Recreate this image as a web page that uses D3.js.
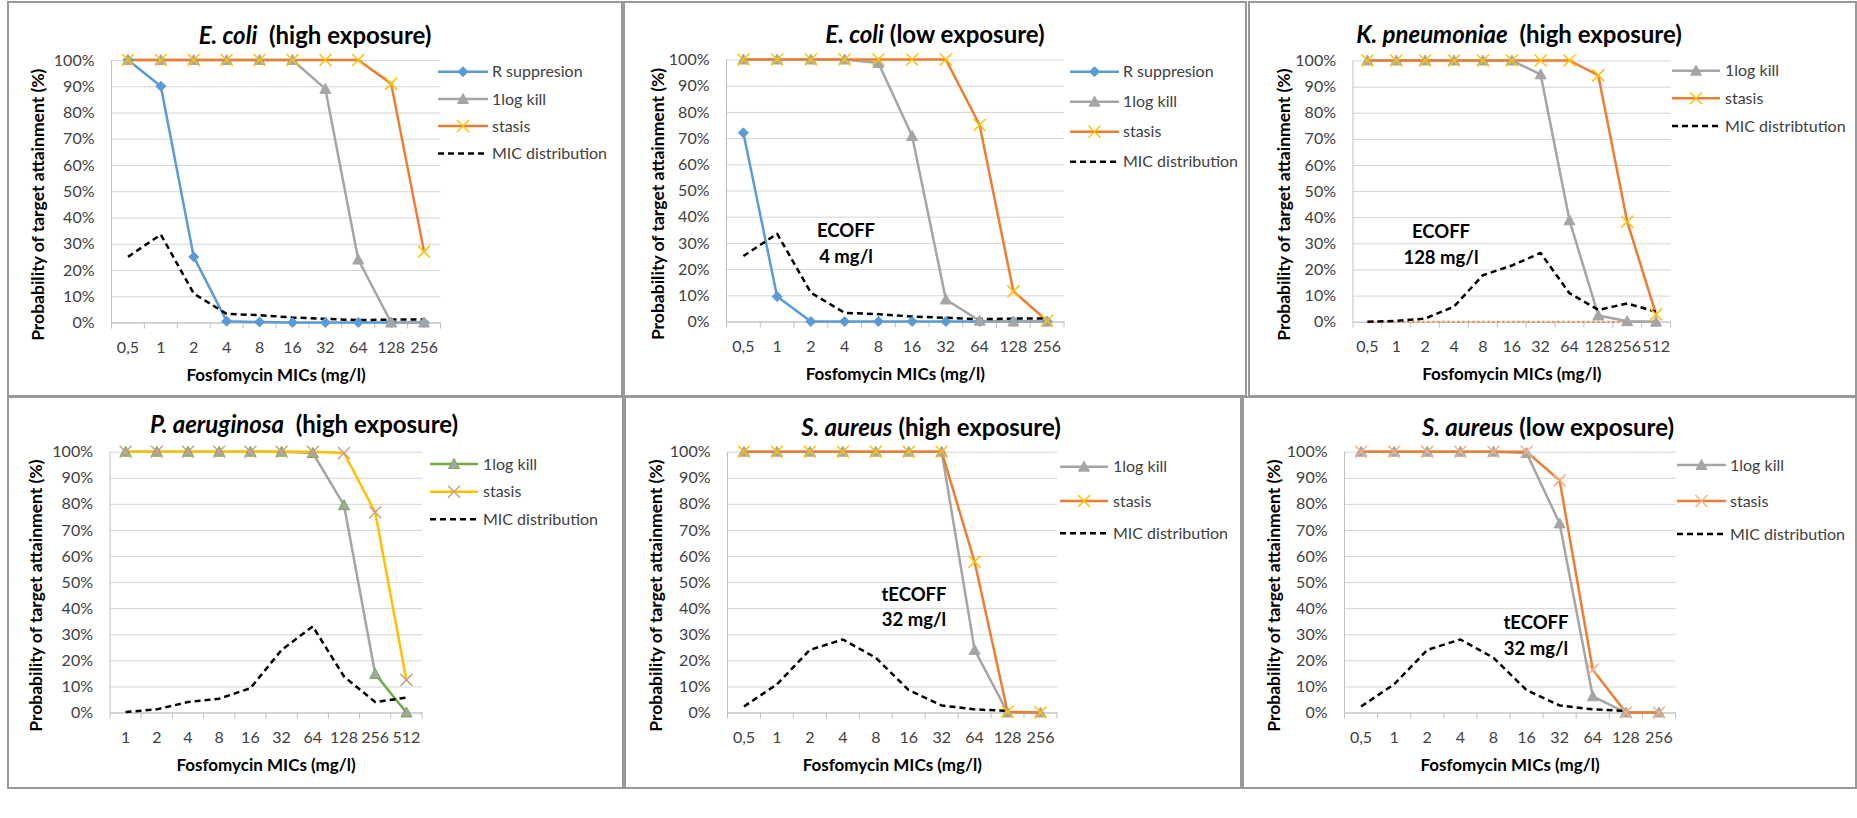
<!DOCTYPE html>
<html>
<head>
<meta charset="utf-8">
<script src="https://cdn.jsdelivr.net/npm/d3@7"></script>
<style>
  body { margin: 0; background: #fff; }
  svg { display: block; font-family: Lato, "Open Sans", sans-serif; }
</style>
</head>
<body>
<svg id="chart" width="1857" height="818"></svg>
<script>

/* Categories (MIC, mg/l) */
var mic10 = ["0,5","1","2","4","8","16","32","64","128","256"];
var mic11 = ["0,5","1","2","4","8","16","32","64","128","256","512"];
var micPae = ["1","2","4","8","16","32","64","128","256","512"];

/* E. coli (high exposure) */
var ecHighRsup   = [100, 90, 25, 0.5, 0.2, 0, 0, 0, 0, 0];
var ecHighKill   = [100, 100, 100, 100, 100, 100, 89, 24, 0, 0];
var ecHighStasis = [100, 100, 100, 100, 100, 100, 100, 100, 91, 27];
var ecMic        = [25, 33.5, 11, 3.3, 2.8, 1.9, 1.4, 0.9, 1.1, 1.1];

/* E. coli (low exposure) */
var ecLowRsup   = [72, 9.5, 0, 0, 0, 0, 0, 0, 0, 0];
var ecLowKill   = [100, 100, 100, 100, 98.7, 70.8, 8.4, 0.3, 0, 0];
var ecLowStasis = [100, 100, 100, 100, 100, 100, 100, 75, 11.5, 0.3];

/* K. pneumoniae (high exposure) */
var kpKill   = [100, 100, 100, 100, 100, 100, 94.7, 38.8, 2.4, 0.2, 0];
var kpStasis = [100, 100, 100, 100, 100, 100, 100, 100, 94.3, 38.3, 2.8];
var kpMic    = [0, 0.3, 1.2, 5.8, 17.8, 21.5, 26.3, 10.9, 4.5, 7, 3.8];
var kpZero   = [0, 0, 0, 0, 0, 0, 0, 0, 0, 0, 0];

/* P. aeruginosa (high exposure) */
var paKill   = [100, 100, 100, 100, 100, 100, 99.5, 79.5, 14.8, 0];
var paStasis = [100, 100, 100, 100, 100, 100, 100, 99.5, 76.8, 12.5];
var paMic    = [0.2, 1.2, 4, 5.3, 9.3, 24, 33, 13.8, 4, 5.7];

/* S. aureus (high / low exposure) */
var saHighKill   = [100, 100, 100, 100, 100, 100, 100, 24, 0, 0];
var saHighStasis = [100, 100, 100, 100, 100, 100, 100, 57.8, 0.3, 0];
var saLowKill    = [100, 100, 100, 100, 100, 99.5, 72.5, 6.2, 0, 0];
var saLowStasis  = [100, 100, 100, 100, 100, 100, 89, 16.4, 0, 0];
var saMic        = [2.3, 10.8, 24, 28, 21, 8.6, 2.7, 1.2, 0.6, null];

var yTicks = [0, 10, 20, 30, 40, 50, 60, 70, 80, 90, 100];

/* Colours */
var cBlue = "#5B9BD5", cGray = "#A5A5A5", cOrange = "#ED7D31",
    cYellow = "#FFC000", cGreen = "#70AD47";

/* Series styles */
function rsup(v){ return {name:"R suppresion", values:v, color:cBlue, marker:"diamond", mFill:cBlue, mStroke:cBlue}; }
function kill(v){ return {name:"1log kill", values:v, color:cGray, marker:"triangle", mFill:cGray, mStroke:cGray}; }
function stasis(v, mc){ return {name:"stasis", values:v, color:cOrange, marker:"x", mStroke:mc || cYellow}; }
function micDist(v, label){ return {name:label || "MIC distribution", values:v, color:"#000", dash:"6,4"}; }

/* Panel layout */
var panels = [
  { box:[8,2,622,396], cats:mic10, x0:111.5, x1:440.5, yTop:60, yBot:322.5,
    title:["E. coli", "  (high exposure)"], tx:315, ty:44, ytx:37.5,
    series:[rsup(ecHighRsup), kill(ecHighKill), stasis(ecHighStasis), micDist(ecMic)],
    legend:{x0:438, x1:488, tx:492, rows:[71.7, 99, 126, 153.5]} },
  { box:[624,2,1246,396], cats:mic10, x0:726.5, x1:1064, yTop:59.5, yBot:321.5,
    title:["E. coli", " (low exposure)"], tx:935, ty:43, ytx:658,
    series:[rsup(ecLowRsup), kill(ecLowKill), stasis(ecLowStasis), micDist(ecMic)],
    legend:{x0:1070, x1:1119, tx:1123, rows:[71.7, 101.7, 131.7, 161.7]},
    note:{x:846, y:[230, 256.7], text:["ECOFF", "4 mg/l"]} },
  { box:[1249,2,1856,396], cats:mic11, x0:1353, x1:1670.5, yTop:60.5, yBot:321.7,
    title:["K. pneumoniae", "  (high exposure)"], tx:1519, ty:43, ytx:1284,
    series:[{name:null, values:kpZero, color:cOrange, dash:"2,3", width:2},
            kill(kpKill), stasis(kpStasis), micDist(kpMic, "MIC distribtution")],
    legend:{x0:1672, x1:1720, tx:1725, rows:[70.7, 98.3, 126]},
    note:{x:1441, y:[231.7, 257], text:["ECOFF", "128 mg/l"]} },
  { box:[8,397,623,788], cats:micPae, x0:110, x1:422, yTop:451.7, yBot:712.5,
    title:["P. aeruginosa", "  (high exposure)"], tx:304, ty:433, ytx:36,
    series:[
      {name:"1log kill", values:paKill, color:cGray, segColors:{8:cGreen}, legendColor:cGreen,
       marker:"triangle", mFill:cGray, mStroke:cGreen},
      {name:"stasis", values:paStasis, color:cYellow, marker:"x", mStroke:"#C9A184"},
      micDist(paMic)],
    legend:{x0:430, x1:478, tx:483, rows:[464, 491.7, 519.3]} },
  { box:[625,397,1241,788], cats:mic10, x0:727.5, x1:1057, yTop:451.7, yBot:712.5,
    title:["S. aureus", " (high exposure)"], tx:931, ty:436, ytx:656,
    series:[kill(saHighKill), stasis(saHighStasis), micDist(saMic)],
    legend:{x0:1060, x1:1108, tx:1113, rows:[466.7, 501, 533.3]},
    note:{x:914, y:[594, 619], text:["tECOFF", "32 mg/l"]} },
  { box:[1243,397,1856,788], cats:mic10, x0:1344.5, x1:1675.5, yTop:451.7, yBot:712.5,
    title:["S. aureus", " (low exposure)"], tx:1548, ty:436, ytx:1273.5,
    series:[kill(saLowKill), stasis(saLowStasis, "#F4B183"), micDist(saMic)],
    legend:{x0:1677, x1:1726, tx:1730, rows:[465, 501, 534]},
    note:{x:1536, y:[622, 648], text:["tECOFF", "32 mg/l"]} }
];

var svg = d3.select("#chart");

function drawMarker(sel, s, cx, cy) {
  if (s.marker === "diamond") {
    sel.append("path")
      .attr("d", `M${cx},${cy-5}L${cx+5},${cy}L${cx},${cy+5}L${cx-5},${cy}Z`)
      .attr("fill", s.mFill).attr("stroke", s.mStroke).attr("stroke-width", 1);
  } else if (s.marker === "triangle") {
    sel.append("path")
      .attr("d", `M${cx},${cy-5.5}L${cx+5.5},${cy+4.5}L${cx-5.5},${cy+4.5}Z`)
      .attr("fill", s.mFill).attr("stroke", s.mStroke).attr("stroke-width", 1);
  } else if (s.marker === "x") {
    sel.append("path")
      .attr("d", `M${cx-6},${cy-6}L${cx+6},${cy+6}M${cx-6},${cy+6}L${cx+6},${cy-6}`)
      .attr("fill", "none").attr("stroke", s.mStroke).attr("stroke-width", 1.5);
  }
}

panels.forEach(function(p){
  var g = svg.append("g");

  // frame
  g.append("rect")
    .attr("x", p.box[0]).attr("y", p.box[1])
    .attr("width", p.box[2]-p.box[0]).attr("height", p.box[3]-p.box[1])
    .attr("fill", "none").attr("stroke", "#999").attr("stroke-width", 2);

  var x = d3.scaleBand().domain(p.cats).range([p.x0, p.x1]);
  var y = d3.scaleLinear().domain([0, 100]).range([p.yBot, p.yTop]);
  var half = x.bandwidth()/2;

  // Y axis + gridlines
  var yAxis = g.append("g")
    .attr("transform", `translate(${p.x0},0)`)
    .call(d3.axisLeft(y).tickValues(yTicks).tickFormat(d => d + "%")
      .tickSize(-(p.x1-p.x0)).tickPadding(17));
  yAxis.select(".domain").remove();
  yAxis.selectAll(".tick line").attr("stroke", "#D4D4D4").attr("stroke-width", 1);
  yAxis.selectAll(".tick text").attr("font-size", 16).attr("fill", "#404040")
    .attr("font-family", "Lato, 'Open Sans', sans-serif");

  // left axis line
  g.append("line")
    .attr("x1", p.x0).attr("x2", p.x0).attr("y1", p.yTop).attr("y2", p.yBot)
    .attr("stroke", "#BFBFBF");

  // X axis
  var xAxis = g.append("g")
    .attr("transform", `translate(0,${p.yBot})`)
    .call(d3.axisBottom(x).tickSize(0).tickPadding(19));
  xAxis.select(".domain").attr("stroke", "#BFBFBF");
  xAxis.selectAll(".tick text").attr("font-size", 16).attr("fill", "#404040")
    .attr("font-family", "Lato, 'Open Sans', sans-serif");
  // tick marks on category boundaries
  xAxis.selectAll(".bound").data(d3.range(p.cats.length + 1)).enter()
    .append("line")
    .attr("x1", i => p.x0 + i*x.step()).attr("x2", i => p.x0 + i*x.step())
    .attr("y1", 0).attr("y2", 6)
    .attr("stroke", "#BFBFBF");

  // Titles
  var t = g.append("text")
    .attr("x", p.tx).attr("y", p.ty)
    .attr("text-anchor", "middle").attr("font-size", 24).attr("font-weight", "bold");
  t.append("tspan").attr("font-style", "italic").text(p.title[0]);
  t.append("tspan").style("white-space", "pre").text(p.title[1]);

  g.append("text")
    .attr("x", (p.x0+p.x1)/2).attr("y", p.yBot + 58.5)
    .attr("text-anchor", "middle").attr("font-size", 17).attr("font-weight", "bold")
    .text("Fosfomycin MICs (mg/l)");

  g.append("text")
    .attr("transform", `translate(${p.ytx},${(p.yTop+p.yBot)/2 + 13.5}) rotate(-90)`)
    .attr("text-anchor", "middle").attr("dy", "0.35em")
    .attr("font-size", 17.5).attr("font-weight", "bold")
    .text("Probability of target attainment (%)");

  // Lines
  var line = d3.line()
    .defined(d => d.v != null)
    .x(d => x(d.c) + half)
    .y(d => y(d.v));

  p.series.forEach(function(s){
    var pts = p.cats.map((c,i) => ({c:c, v:s.values[i]}));
    if (s.segColors) {
      for (var i = 0; i < pts.length-1; i++) {
        g.append("path")
          .attr("d", line([pts[i], pts[i+1]]))
          .attr("fill", "none")
          .attr("stroke", s.segColors[i] || s.color)
          .attr("stroke-width", 2.5);
      }
    } else {
      g.append("path")
        .attr("d", line(pts))
        .attr("fill", "none")
        .attr("stroke", s.color)
        .attr("stroke-width", s.width || 2.5)
        .attr("stroke-dasharray", s.dash || null)
        .attr("stroke-linejoin", "round");
    }
  });

  // Markers
  p.series.forEach(function(s){
    if (!s.marker) return;
    p.cats.forEach(function(c,i){
      if (s.values[i] == null) return;
      drawMarker(g, s, x(c)+half, y(s.values[i]));
    });
  });

  // Legend
  var li = 0;
  p.series.forEach(function(s){
    if (!s.name) return;
    var ry = p.legend.rows[li++];
    g.append("line")
      .attr("x1", p.legend.x0).attr("x2", p.legend.x1).attr("y1", ry).attr("y2", ry)
      .attr("stroke", s.legendColor || s.color).attr("stroke-width", 2.5)
      .attr("stroke-dasharray", s.dash || null);
    if (s.marker) drawMarker(g, s, (p.legend.x0+p.legend.x1)/2, ry);
    g.append("text")
      .attr("x", p.legend.tx).attr("y", ry).attr("dy", "0.35em")
      .attr("font-size", 16).attr("fill", "#404040")
      .text(s.name);
  });

  // ECOFF note
  if (p.note) {
    p.note.text.forEach(function(txt, i){
      g.append("text")
        .attr("x", p.note.x).attr("y", p.note.y[i]).attr("dy", "0.36em")
        .attr("text-anchor", "middle").attr("font-size", 18.5).attr("font-weight", "bold")
        .text(txt);
    });
  }
});

</script>
</body>
</html>
